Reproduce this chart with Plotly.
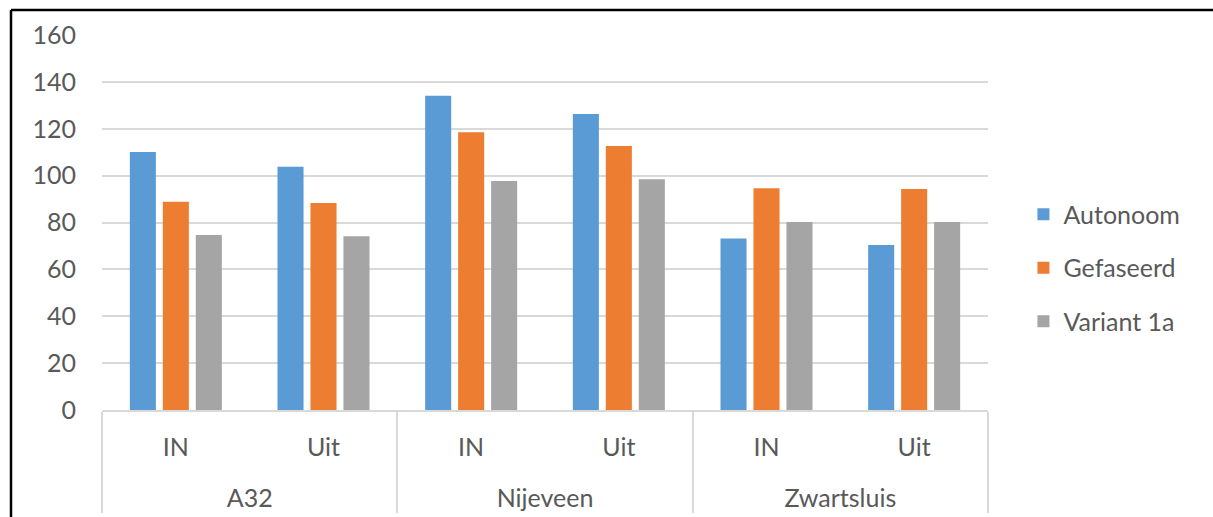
import plotly.graph_objects as go

# Locations and directions (two-level category axis)
locations = ["A32", "A32", "Nijeveen", "Nijeveen", "Zwartsluis", "Zwartsluis"]
directions = ["IN", "Uit", "IN", "Uit", "IN", "Uit"]

# Values per scenario
autonoom = [110.1, 103.8, 134.1, 126.3, 73.2, 70.4]
gefaseerd = [88.9, 88.3, 118.5, 112.6, 94.6, 94.3]
variant_1a = [74.7, 74.1, 97.7, 98.5, 80.2, 80.2]

series = [
    ("Autonoom", autonoom, "#5B9BD5"),
    ("Gefaseerd", gefaseerd, "#ED7D31"),
    ("Variant 1a", variant_1a, "#A5A5A5"),
]

y_ticks = [0, 20, 40, 60, 80, 100, 120, 140, 160]

TEXT = "#595959"
GRID = "#D9D9D9"
FONT = "Lato, 'Liberation Sans', sans-serif"

# outer level labels get an extra line of room above them
outer_labels = ["<br>" + loc for loc in locations]

fig = go.Figure()
for name, vals, color in series:
    fig.add_trace(go.Bar(
        name=name,
        x=[outer_labels, directions],
        y=vals,
        marker=dict(color=color, line=dict(width=0)),
        legendgroup=name,
    ))

fig.update_layout(
    width=1213,
    height=517,
    margin=dict(l=102, r=225, t=35, b=107),
    paper_bgcolor="white",
    plot_bgcolor="white",
    barmode="group",
    bargap=0.33,
    bargroupgap=0.21,
    font=dict(family=FONT, color=TEXT, size=24),
    showlegend=True,
    legend=dict(
        x=1.040, y=0.3787, xanchor="left", yanchor="middle",
        font=dict(size=25, color=TEXT, family=FONT),
        tracegroupgap=18,
        bgcolor="rgba(0,0,0,0)",
    ),
    xaxis=dict(
        type="multicategory",
        automargin=False,
        showline=True,
        linecolor=GRID,
        linewidth=2,
        showdividers=True,
        dividercolor=GRID,
        dividerwidth=2,
        showgrid=False,
        ticks="",
        ticklabelstandoff=14,
        tickfont=dict(size=25, color=TEXT, family=FONT),
    ),
    yaxis=dict(
        range=[0, 160],
        automargin=False,
        tickvals=y_ticks,
        showgrid=True,
        gridcolor=GRID,
        gridwidth=2,
        zeroline=False,
        showline=False,
        ticks="",
        ticklabelstandoff=25,
        tickfont=dict(size=25, color=TEXT, family=FONT),
    ),
    shapes=[
        # outer chart frame (left and top edges)
        dict(type="line", xref="paper", yref="paper",
             x0=-0.1027, x1=-0.1027, y0=1.0667, y1=-0.35,
             line=dict(color="black", width=2.5)),
        dict(type="line", xref="paper", yref="paper",
             x0=-0.1027, x1=1.30, y0=1.0667, y1=1.0667,
             line=dict(color="black", width=2.5)),
    ],
)

fig.write_html("out.html")
